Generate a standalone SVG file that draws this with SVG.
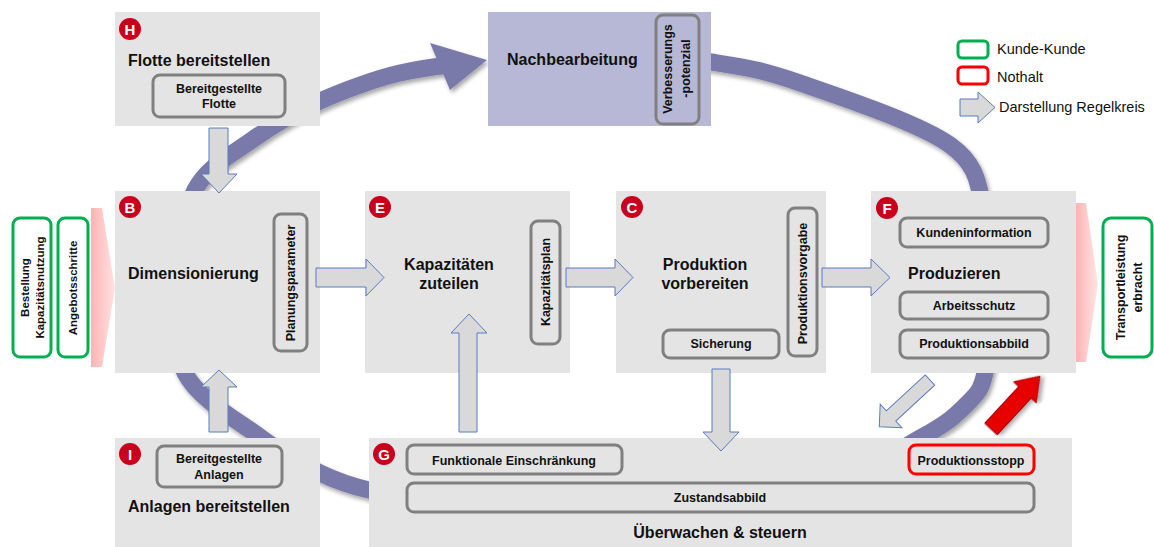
<svg xmlns="http://www.w3.org/2000/svg" width="1154" height="547" viewBox="0 0 1154 547">
  <defs>
    <style>
      text { font-family: "Liberation Sans", Arial, sans-serif; fill: #111; }
      .box { fill: #e4e4e4; }
      .head { font-size: 16px; font-weight: bold; }
      .lbl { font-size: 12.5px; font-weight: bold; text-anchor: middle; }
      .glbl { font-size: 11.5px; font-weight: bold; text-anchor: middle; }
      .leg { font-size: 14.5px; }
      .tag { fill: #e4e4e4; stroke: #808080; stroke-width: 3; }
      .green { fill: #ffffff; stroke: #00b050; stroke-width: 3; }
      .red { fill: #e4e4e4; stroke: #ff0000; stroke-width: 3; }
      .flow { fill: #d9d9d9; stroke: #5a7bbd; stroke-width: 1; }
      .badge circle { fill: #c8001e; }
      .badge text { fill: #ffffff; font-size: 15px; font-weight: bold; text-anchor: middle; }
    </style>
    <filter id="soft" x="-10%" y="-10%" width="120%" height="120%">
      <feDropShadow dx="2" dy="3" stdDeviation="2" flood-color="#000" flood-opacity="0.35"/>
    </filter>
    <linearGradient id="pinkL" x1="0" y1="0" x2="1" y2="0">
      <stop offset="0" stop-color="#ffb3b3"/>
      <stop offset="1" stop-color="#ffe3e3"/>
    </linearGradient>
    <linearGradient id="pinkR" x1="0" y1="0" x2="1" y2="0">
      <stop offset="0" stop-color="#ffb3b3"/>
      <stop offset="1" stop-color="#ffe6e6"/>
    </linearGradient>
  </defs>

  <!-- control loop band -->
  <g id="loop" filter="url(#soft)">
    <path d="M600,52 C635.2,52.8 677.7,56.8 711,62 C744.3,67.2 760.2,69.2 800,83 C839.8,96.8 919.2,123 950,145 C980.8,167 978,189.2 985,215 C992,240.8 992,273.7 992,300 C992,326.3 989,355.8 985,373 C981,390.2 978.5,392.3 968,403 C957.5,413.7 950,421.7 922,437 C894,452.3 853.7,482 800,495 C746.3,508 671.8,515.8 600,515 C528.2,514.2 387,494 369,490 C351,486 338.2,481.8 320,473 C301.8,464.2 282.5,453.7 260,437 C237.5,420.3 198.3,399.2 185,373 C171.7,346.8 178.3,310.5 180,280 C181.7,249.5 183,213.3 195,190 C207,166.7 231.2,154.8 252,140 C272.8,125.2 295.3,112.2 320,101 C344.7,89.8 378,78 400,73 C416,69.5 431,67 446,65.5" fill="none" stroke="#7a7aaa" stroke-width="17"/>
    <polygon points="430,43 487,60 450,90" fill="#7a7aaa"/>
  </g>

  <!-- input / output wedges -->
  <polygon points="91,208 102,208 115,288 102,367 91,367" fill="url(#pinkL)"/>
  <polygon points="1076,203 1086,203 1098,284 1086,362 1076,362" fill="url(#pinkR)"/>

  <!-- H -->
  <g id="node-h">
    <rect class="box" x="115" y="12" width="205" height="114"/>
    <text class="head" x="128" y="65.5">Flotte bereitstellen</text>
    <rect class="tag" x="153" y="75" width="132" height="42" rx="7"/>
    <text class="lbl" x="219" y="92.5">Bereitgestellte</text>
    <text class="lbl" x="219" y="108">Flotte</text>
    <g class="badge"><circle cx="130" cy="29" r="11"/><text x="130" y="34.5">H</text></g>
  </g>

  <!-- Nachbearbeitung -->
  <g id="node-nachbearbeitung">
    <rect x="488" y="12" width="223" height="114" fill="#b6b8d6"/>
    <text class="head" x="507" y="65">Nachbearbeitung</text>
    <rect x="656" y="15" width="43" height="109" rx="7" fill="#b6b8d6" stroke="#808080" stroke-width="3"/>
    <text class="lbl" transform="translate(672,69) rotate(-90)">Verbesserungs</text>
    <text class="lbl" transform="translate(690,68.5) rotate(-90)">-potenzial</text>
  </g>

  <!-- B -->
  <g id="node-b">
    <rect class="box" x="115" y="191" width="205" height="182"/>
    <text class="head" x="128" y="278.5">Dimensionierung</text>
    <rect class="tag" x="274" y="214" width="33" height="137" rx="7"/>
    <text class="lbl" transform="translate(294.5,283) rotate(-90)">Planungsparameter</text>
    <g class="badge"><circle cx="130" cy="207" r="11"/><text x="130" y="212.5">B</text></g>
  </g>

  <!-- E -->
  <g id="node-e">
    <rect class="box" x="365" y="191" width="205" height="182"/>
    <text class="head" x="449" y="269.5" text-anchor="middle">Kapazitäten</text>
    <text class="head" x="449" y="288.5" text-anchor="middle">zuteilen</text>
    <rect class="tag" x="531" y="221" width="29" height="123" rx="7"/>
    <text class="lbl" transform="translate(549.5,282) rotate(-90)">Kapazitätsplan</text>
    <g class="badge"><circle cx="380" cy="207" r="11"/><text x="380" y="212.5">E</text></g>
  </g>

  <!-- C -->
  <g id="node-c">
    <rect class="box" x="616" y="191" width="210" height="182"/>
    <text class="head" x="705" y="269.5" text-anchor="middle">Produktion</text>
    <text class="head" x="705" y="288.5" text-anchor="middle">vorbereiten</text>
    <rect class="tag" x="788" y="208" width="29" height="148" rx="7"/>
    <text class="lbl" transform="translate(806.5,283.5) rotate(-90)">Produktionsvorgabe</text>
    <rect class="tag" x="663" y="330" width="116" height="28" rx="7"/>
    <text class="lbl" x="721" y="348">Sicherung</text>
    <g class="badge"><circle cx="632" cy="207" r="11"/><text x="632" y="212.5">C</text></g>
  </g>

  <!-- F -->
  <g id="node-f">
    <rect class="box" x="871" y="191" width="205" height="182"/>
    <rect class="tag" x="900" y="218" width="148" height="29" rx="7"/>
    <text class="lbl" x="974" y="237">Kundeninformation</text>
    <text class="head" x="908" y="278.5">Produzieren</text>
    <rect class="tag" x="900" y="292" width="148" height="27" rx="7"/>
    <text class="lbl" x="974" y="310">Arbeitsschutz</text>
    <rect class="tag" x="900" y="330" width="148" height="28" rx="7"/>
    <text class="lbl" x="974" y="348">Produktionsabbild</text>
    <g class="badge"><circle cx="887" cy="208" r="11"/><text x="887" y="213.5">F</text></g>
  </g>

  <!-- I -->
  <g id="node-i">
    <rect class="box" x="115" y="438" width="205" height="109"/>
    <rect class="tag" x="157" y="446" width="125" height="41" rx="7"/>
    <text class="lbl" x="219" y="463">Bereitgestellte</text>
    <text class="lbl" x="219" y="478.5">Anlagen</text>
    <text class="head" x="128" y="511.5">Anlagen bereitstellen</text>
    <g class="badge"><circle cx="130" cy="454" r="11"/><text x="130" y="459.5">I</text></g>
  </g>

  <!-- G -->
  <g id="node-g">
    <rect class="box" x="369" y="438" width="703" height="109"/>
    <rect class="tag" x="407" y="445" width="215" height="29" rx="7"/>
    <text class="lbl" x="514" y="464.5">Funktionale Einschränkung</text>
    <rect class="red" x="909" y="445" width="125" height="29" rx="7"/>
    <text class="lbl" x="971" y="464.5">Produktionsstopp</text>
    <rect class="tag" x="407" y="483" width="627" height="29" rx="7"/>
    <text class="lbl" x="720" y="501.5">Zustandsabbild</text>
    <text class="head" x="720" y="538" text-anchor="middle">Überwachen &amp; steuern</text>
    <g class="badge"><circle cx="384" cy="454" r="11"/><text x="384" y="459.5">G</text></g>
  </g>

  <!-- customer interface -->
  <g id="node-bestellung">
    <rect class="green" x="13" y="218" width="38" height="139" rx="7"/>
    <text class="glbl" transform="translate(29,287.5) rotate(-90)">Bestellung</text>
    <text class="glbl" transform="translate(43.5,287.5) rotate(-90)">Kapazitätsnutzung</text>
  </g>
  <g id="node-angebot">
    <rect class="green" x="58" y="218" width="30" height="139" rx="7"/>
    <text class="glbl" transform="translate(77,288) rotate(-90)">Angebotsschritte</text>
  </g>
  <g id="node-transport">
    <rect class="green" x="1103" y="218" width="49" height="139" rx="8"/>
    <text class="lbl" transform="translate(1125,287.5) rotate(-90)">Transportleistung</text>
    <text class="lbl" transform="translate(1142,287.5) rotate(-90)">erbracht</text>
  </g>

  <!-- connectors -->
  <g id="connectors">
    <polygon class="flow" points="209,128 228,128 228,174 237,174 219,193 201,174 209,174"/>
    <polygon class="flow" points="209,432 228,432 228,387 237,387 219,370 201,387 209,387"/>
    <polygon class="flow" points="316,268 366,268 366,259 384,277.5 366,296 366,287 316,287"/>
    <polygon class="flow" points="566,268 615,268 615,259 633,277.5 615,296 615,287 566,287"/>
    <polygon class="flow" points="822,268 871,268 871,259 890,277.5 871,296 871,287 822,287"/>
    <polygon class="flow" points="459,432 477,432 477,333 487,333 469,314 451,333 459,333"/>
    <polygon class="flow" points="712,369 730,369 730,432 739,432 721,451 703,432 712,432"/>
    <path class="flow" d="M0,-7 L53,-7 L53,-16 L69,0 L53,16 L53,7 L0,7 Z" transform="translate(930,380) rotate(137.3)"/>
    <path d="M0,-8.5 L50,-8.5 L50,-15.5 L72,0 L50,15.5 L50,8.5 L0,8.5 Z" transform="translate(991,429) rotate(-47.2)" fill="#e60000" stroke="#a00000" stroke-width="1" filter="url(#soft)"/>
  </g>

  <!-- legend -->
  <g id="legend">
    <rect class="green" x="958" y="41" width="30" height="17" rx="4"/>
    <text class="leg" x="997" y="54">Kunde-Kunde</text>
    <rect x="958" y="67" width="30" height="17" rx="4" fill="#ffffff" stroke="#ff0000" stroke-width="3"/>
    <text class="leg" x="997" y="81.5">Nothalt</text>
    <polygon class="flow" points="960,99 978,99 978,92 995,107.5 978,123 978,116 960,116"/>
    <text class="leg" x="999" y="112">Darstellung Regelkreis</text>
  </g>
</svg>
